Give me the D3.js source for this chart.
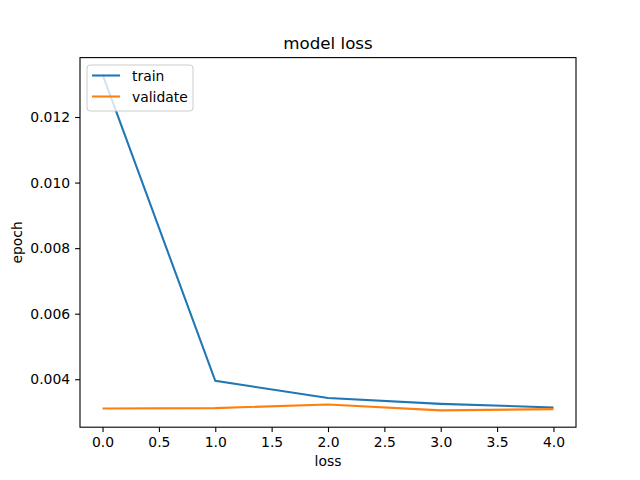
<!DOCTYPE html>
<html>
<head>
<meta charset="utf-8">
<script src="https://cdn.jsdelivr.net/npm/d3@7"></script>
<style>
  body { margin: 0; background: #fff; }
  svg { font-family: "DejaVu Sans", sans-serif; }
</style>
</head>
<body>
<svg id="chart" width="640" height="480"></svg>
<script>
const epochs = [0, 1, 2, 3, 4]
const trainLoss = [0.01330, 0.00395, 0.00343, 0.00325, 0.00314]
const validateLoss = [0.00311, 0.00312, 0.00323, 0.00305, 0.00309]
const xTicks = [0, 0.5, 1, 1.5, 2, 2.5, 3, 3.5, 4]
const yTicks = [0.004, 0.006, 0.008, 0.010, 0.012]
const seriesNames = ['train', 'validate']

const svg = d3.select('#chart')
const plotLeft = 80, plotRight = 576, plotTop = 57.6, plotBottom = 427.2
const trainColor = '#1f77b4'
const validateColor = '#ff7f0e'

// matplotlib-like 5% margins
const allY = trainLoss.concat(validateLoss)
const yMin = d3.min(allY), yMax = d3.max(allY)
const yPad = (yMax - yMin) * 0.05
const xPad = (d3.max(epochs) - d3.min(epochs)) * 0.05

const xScale = d3.scaleLinear()
  .domain([d3.min(epochs) - xPad, d3.max(epochs) + xPad])
  .range([plotLeft, plotRight])

const yScale = d3.scaleLinear()
  .domain([yMin - yPad, yMax + yPad])
  .range([plotBottom, plotTop])

// axes
svg.append('g')
  .attr('transform', `translate(0, ${plotBottom})`)
  .call(d3.axisBottom(xScale).tickValues(xTicks).tickSize(4.9).tickPadding(5).tickFormat(d3.format('.1f')))

svg.append('g')
  .attr('transform', `translate(${plotLeft}, 0)`)
  .call(d3.axisLeft(yScale).tickValues(yTicks).tickSize(4.9).tickPadding(5).tickFormat(d3.format('.3f')))

svg.selectAll('.domain').remove()
svg.selectAll('.tick line').attr('stroke', '#000').attr('stroke-width', 1.1)
svg.selectAll('.tick text')
  .attr('fill', '#000')
  .style('font-size', '13.9px')
  .style('font-family', '"DejaVu Sans", sans-serif')

// lines
const line = d3.line()
  .x((d, i) => xScale(epochs[i]))
  .y(d => yScale(d))

const plot = svg.append('g')
plot.append('path')
  .datum(trainLoss)
  .attr('d', line)
  .attr('fill', 'none')
  .attr('stroke', trainColor)
  .attr('stroke-width', 2.08)

plot.append('path')
  .datum(validateLoss)
  .attr('d', line)
  .attr('fill', 'none')
  .attr('stroke', validateColor)
  .attr('stroke-width', 2.08)

// frame
svg.append('rect')
  .attr('x', plotLeft).attr('y', plotTop)
  .attr('width', plotRight - plotLeft).attr('height', plotBottom - plotTop)
  .attr('fill', 'none')
  .attr('stroke', '#000')
  .attr('stroke-width', 1.1)

// title and labels
svg.append('text')
  .attr('x', (plotLeft + plotRight) / 2)
  .attr('y', 49)
  .attr('text-anchor', 'middle')
  .style('font-size', '16.7px')
  .text('model loss')

svg.append('text')
  .attr('x', (plotLeft + plotRight) / 2)
  .attr('y', 466)
  .attr('text-anchor', 'middle')
  .style('font-size', '13.9px')
  .text('loss')

svg.append('text')
  .attr('transform', `translate(22, ${(plotTop + plotBottom) / 2}) rotate(-90)`)
  .attr('text-anchor', 'middle')
  .style('font-size', '13.9px')
  .text('epoch')

// legend
const legend = svg.append('g')
legend.append('rect')
  .attr('x', 87).attr('y', 65)
  .attr('width', 106).attr('height', 46)
  .attr('rx', 3)
  .attr('fill', 'rgba(255,255,255,0.8)')
  .attr('stroke', '#ccc')
  .attr('stroke-width', 1)

const colors = [trainColor, validateColor]
seriesNames.forEach((name, i) => {
  const y = 75.5 + i * 21
  legend.append('line')
    .attr('x1', 92).attr('x2', 120)
    .attr('y1', y).attr('y2', y)
    .attr('stroke', colors[i])
    .attr('stroke-width', 2.08)
  legend.append('text')
    .attr('x', 132).attr('y', y + 5)
    .style('font-size', '13.9px')
    .text(name)
})
</script>
</body>
</html>
